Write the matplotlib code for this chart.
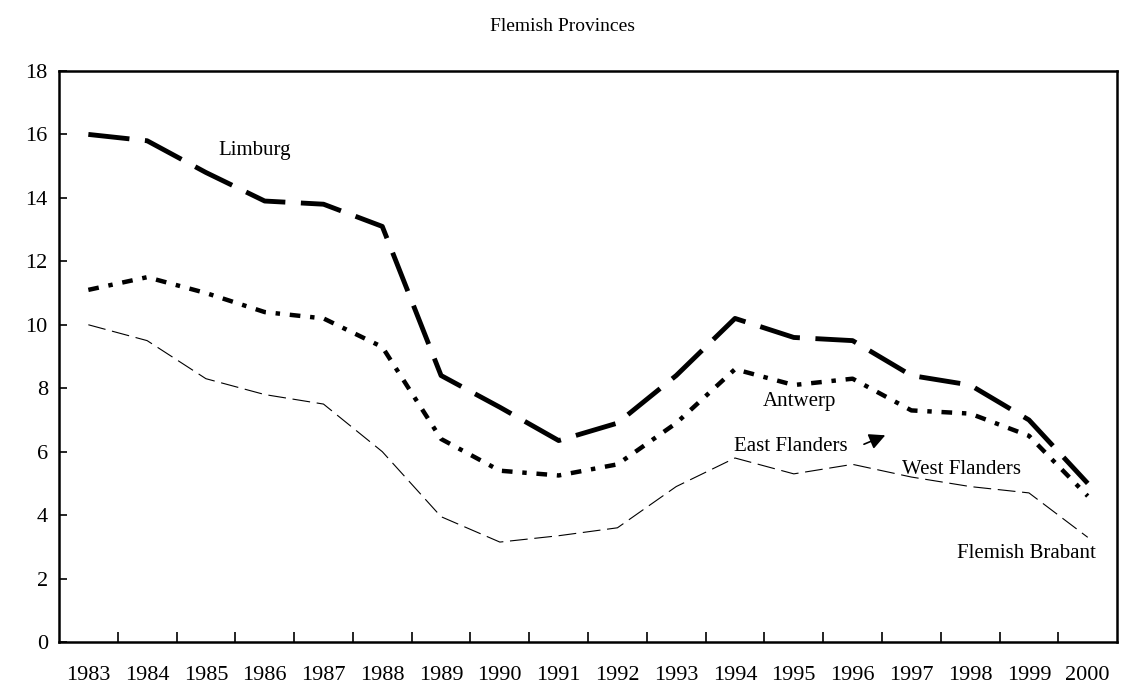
import numpy as np
import matplotlib.pyplot as plt

# ---------------- DATA ----------------
years = [str(y) for y in range(1983, 2001)]
limburg = [16.0, 15.8, 14.8, 13.9, 13.8, 13.1, 8.4, 7.4, 6.35, 6.9, 8.4, 10.2, 9.6, 9.5, 8.4, 8.1, 7.0, 5.0]
antwerp = [11.1, 11.5, 11.0, 10.4, 10.2, 9.3, 6.4, 5.4, 5.25, 5.6, 6.9, 8.6, 8.1, 8.3, 7.3, 7.2, 6.5, 4.6]
flemish_brabant = [10.0, 9.5, 8.3, 7.8, 7.5, 6.0, 3.95, 3.15, 3.35, 3.6, 4.9, 5.8, 5.3, 5.6, 5.2, 4.9, 4.7, 3.3]
yticks = [0, 2, 4, 6, 8, 10, 12, 14, 16, 18]

plt.rcParams['font.family'] = ['Liberation Serif', 'DejaVu Serif']

fig = plt.figure(figsize=(11.25, 6.91), dpi=100)
ax = fig.add_axes([0.0524, 0.0709, 0.9406, 0.8264])

x = np.arange(len(years))

# ---------------- LINES ----------------
ax.plot(x, limburg, color='black', lw=3.5, dashes=(8.5, 3.2), dash_capstyle='butt')
ax.plot(x, antwerp, color='black', lw=3.2, dashes=(2.4, 2.2, 1.0, 2.2), dash_capstyle='butt')
ax.plot(x, flemish_brabant, color='black', lw=0.8, dashes=(16, 6))

# ---------------- LABELS ----------------
lab = dict(fontsize=15, color='black', ha='center', va='center')
ax.text(2.83, 15.5, 'Limburg', **lab)
ax.text(12.1, 7.57, 'Antwerp', **lab)
ax.text(11.95, 6.15, 'East Flanders', **lab)
ax.text(14.85, 5.45, 'West Flanders', **lab)
ax.text(15.95, 2.8, 'Flemish Brabant', **lab)
ax.annotate('', xy=(13.6, 6.55), xytext=(13.15, 6.2),
            arrowprops=dict(arrowstyle='-|>', color='black', lw=1.2, mutation_scale=24))

# ---------------- AXES ----------------
ax.set_xlim(-0.5, len(years) - 0.5)
ax.set_ylim(0, 18)
ax.set_xticks(np.arange(0.5, len(years) - 1, 1.0))
ax.set_xticklabels([])
ax.set_xticks(x, minor=True)
ax.set_xticklabels(years, minor=True, fontsize=16)
ax.tick_params(axis='x', which='major', direction='in', length=7, width=1.2)
ax.tick_params(axis='x', which='minor', length=0, pad=17)
ax.set_yticks(yticks)
ax.set_yticklabels([str(v) for v in yticks], fontsize=16)
ax.tick_params(axis='y', direction='in', length=6, width=1.2, pad=8)
for s in ax.spines.values():
    s.set_linewidth(1.8)

fig.text(0.5, 0.962, 'Flemish Provinces', ha='center', va='center', fontsize=14)

fig.savefig('out.png', dpi=100)
